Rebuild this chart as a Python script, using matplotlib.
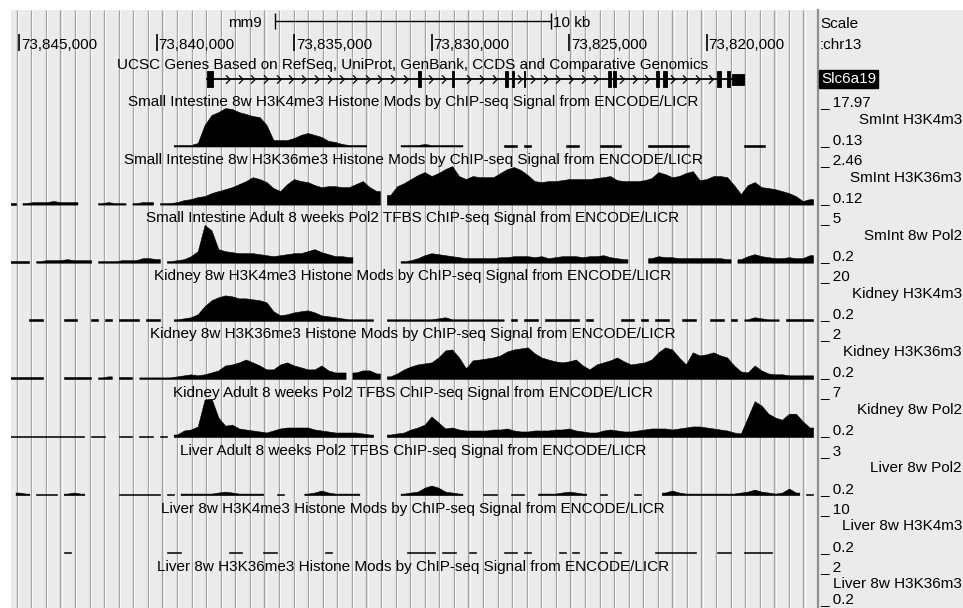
import numpy as np
import matplotlib
matplotlib.use("Agg")
from matplotlib import pyplot as plt
from matplotlib import transforms
from matplotlib.path import Path

plt.rcParams['font.family'] = ['Liberation Sans', 'DejaVu Sans']
FS = 11.0

# mm9 chr13 window, shown reversed (minus strand view)
chrom = 'chr13'
win_left = 73845291
win_right = 73816055
pos_ticks = [73845000, 73840000, 73835000, 73830000, 73825000, 73820000]

# UCSC gene Slc6a19
gene_name = 'Slc6a19'
gene_tx = (73838164, 73818640)
gene_exons = [(73838164, 73837945), (73830490, 73830380), (73829250, 73829180),
              (73827330, 73827220), (73827070, 73827000), (73826640, 73826590),
              (73823580, 73823470), (73823400, 73823290), (73821840, 73821730),
              (73821580, 73821440), (73819620, 73819470), (73819250, 73819150)]
gene_utr = (73819070, 73818640)

# signal in 250 bp bins, bin 0 centred on 73,845,250 (None = no data)
bin_bp = 250
bin_start = 73845250
N = None

sm_h3k4 = [N, N, N, N, N, N, N, N, N, N,
           N, N, N, N, N, N, N, N, N, N,
           N, N, N, N, 0.13, 0.13, 0.13, 1.1, 9.8, 14.6,
           16.0, 17.9, 17.5, 16.0, 15.1, 14.1, 13.6, 9.8, 2.5, 2.5,
           2.5, 3.5, 5.0, 5.9, 5.0, 4.0, 2.1, 1.6, 0.6, 0.13,
           0.13, 0.13, N, N, N, N, N, 0.13, 0.13, 0.13,
           0.6, 0.13, 0.13, 0.13, 0.13, 0.13, N, N, N, N,
           N, N, 0.13, 0.13, N, 0.13, N, N, N, N,
           N, 0.13, 0.13, N, N, N, 0.13, 0.13, 0.13, N,
           N, N, N, 0.13, 0.13, 0.13, 0.13, 0.13, 0.13, N,
           N, N, N, N, N, N, N, 0.13, 0.13, 0.13,
           N, N, N, N, N, N, N]

sm_h3k36 = [0.12, N, 0.12, 0.18, 0.18, 0.18, 0.25, 0.18, 0.18, 0.18,
            N, N, N, 0.12, 0.18, 0.12, 0.12, N, 0.12, 0.18,
            0.18, N, 0.12, 0.12, 0.18, 0.31, 0.37, 0.50, 0.56, 0.75,
            0.88, 1.0, 1.13, 1.32, 1.51, 1.76, 1.64, 1.45, 1.07, 0.88,
            1.32, 1.64, 1.51, 1.45, 1.26, 1.13, 1.19, 1.19, 1.13, 1.13,
            1.32, 1.51, 1.13, 0.88, N, 0.63, 1.19, 1.38, 1.64, 1.89,
            2.08, 1.83, 2.02, 2.27, 2.46, 1.83, 1.64, 1.83, 1.76, 1.76,
            1.76, 2.02, 2.27, 2.40, 2.21, 1.89, 1.51, 1.45, 1.51, 1.51,
            1.57, 1.64, 1.64, 1.64, 1.64, 1.70, 1.76, 1.83, 1.57, 1.51,
            1.51, 1.51, 1.57, 1.70, 2.08, 1.95, 1.76, 1.83, 2.02, 2.14,
            1.57, 1.64, 1.83, 1.83, 1.76, 1.26, 0.69, 1.26, 1.45, 1.13,
            1.07, 1.0, 0.88, 0.75, 0.56, 0.25, 0.37]

sm_pol2 = [0.2, 0.2, 0.2, N, 0.2, 0.33, 0.33, 0.33, 0.46, 0.33,
           0.33, 0.33, N, 0.2, 0.2, 0.2, 0.33, 0.33, 0.33, 0.59,
           0.59, 0.46, N, 0.2, 0.33, 0.46, 0.85, 1.5, 4.9, 4.2,
           1.76, 1.5, 1.37, 1.24, 1.24, 1.24, 1.11, 0.98, 0.85, 0.98,
           1.11, 1.24, 1.24, 1.5, 1.76, 1.37, 1.11, 0.85, 0.85, 0.72,
           N, N, N, N, N, N, N, 0.2, 0.33, 0.59,
           0.98, 1.24, 1.11, 0.98, 0.85, 0.72, 0.59, 0.59, 0.59, 0.59,
           0.59, 0.72, 0.72, 0.85, 0.85, 0.85, 0.72, 0.85, 0.59, 0.72,
           0.85, 0.85, 0.85, 0.72, 0.85, 0.85, 0.98, 0.72, 0.59, 0.46,
           N, N, N, 0.59, 0.85, 0.72, 0.72, 0.59, 0.59, 0.59,
           0.59, 0.59, 0.59, 0.59, 0.46, N, 0.46, 0.85, 1.11, 0.85,
           0.72, 0.59, 0.59, 0.72, 0.59, 0.59, 0.98]

kid_h3k4 = [N, N, N, 0.2, 0.2, N, N, N, 0.2, 0.2,
            N, N, 0.2, N, 0.2, N, 0.2, 0.2, 0.2, N,
            0.2, 0.2, N, N, 0.2, 0.7, 1.3, 2.9, 7.2, 10.4,
            12.0, 13.0, 12.5, 11.4, 11.4, 10.9, 10.4, 9.3, 4.5, 2.3,
            2.9, 3.9, 4.5, 5.0, 3.9, 2.3, 1.8, 1.3, 0.7, 0.2,
            0.2, 0.2, 0.2, N, N, 0.2, 0.2, 0.2, 0.2, 0.2,
            0.2, 0.2, 0.7, 1.3, 0.2, 0.2, 0.2, 0.2, 0.2, 0.2,
            0.2, 0.2, N, 0.2, N, 0.2, 0.2, N, 0.2, 0.2,
            0.2, 0.2, 0.2, N, 0.2, N, N, N, N, 0.2,
            0.2, N, 0.2, N, 0.2, 0.2, N, N, 0.2, 0.2,
            N, N, 0.2, 0.2, N, 0.2, N, 0.2, 1.3, 0.7,
            0.2, 0.2, N, 0.2, 0.2, 0.2, 0.2]

kid_h3k36 = [0.2, 0.2, 0.2, 0.2, 0.2, N, N, N, 0.2, 0.2,
             0.2, 0.2, N, 0.2, 0.25, N, 0.2, 0.2, N, 0.2,
             0.2, 0.2, 0.2, 0.2, 0.25, 0.3, 0.35, 0.3, 0.35, 0.44,
             0.54, 0.78, 0.83, 0.93, 1.07, 0.93, 0.78, 0.59, 0.59, 0.83,
             0.93, 0.78, 0.69, 0.59, 0.59, 0.78, 0.54, 0.44, 0.44, N,
             0.44, 0.54, 0.54, 0.39, N, 0.25, 0.39, 0.59, 0.73, 0.83,
             0.88, 0.93, 1.17, 1.51, 1.56, 1.17, 0.64, 1.03, 1.07, 1.12,
             1.17, 1.27, 1.46, 1.56, 1.61, 1.66, 1.37, 1.17, 1.07, 0.98,
             0.93, 0.98, 1.07, 0.78, 0.59, 0.83, 0.93, 1.03, 1.17, 0.98,
             0.83, 0.88, 0.93, 1.07, 1.42, 1.66, 1.56, 1.17, 0.83, 1.42,
             1.27, 1.32, 1.42, 1.27, 1.17, 0.78, 0.49, 0.44, 0.78, 0.54,
             0.39, 0.35, 0.35, 0.3, 0.3, 0.3, 0.3]

kid_pol2 = [0.2, 0.2, 0.2, 0.2, 0.2, 0.2, 0.2, 0.2, 0.2, 0.2,
            0.2, N, 0.2, 0.2, N, N, 0.2, 0.2, N, 0.2,
            0.2, N, 0.2, N, 0.38, 1.12, 1.3, 1.86, 6.8, 7.0,
            3.5, 2.0, 2.2, 1.49, 1.3, 1.12, 0.94, 0.75, 1.12, 1.49,
            1.67, 1.67, 1.67, 1.67, 1.3, 1.12, 0.94, 0.75, 0.75, 0.75,
            0.75, 0.57, 0.38, N, N, 0.38, 0.57, 0.75, 1.3, 1.67,
            2.2, 3.7, 2.6, 1.49, 1.67, 1.3, 1.12, 1.12, 1.12, 1.12,
            1.3, 1.3, 1.49, 1.12, 0.94, 0.94, 1.12, 1.12, 1.12, 1.3,
            1.3, 1.49, 1.12, 0.94, 0.75, 0.75, 1.12, 1.3, 1.12, 0.94,
            0.94, 1.12, 1.3, 1.49, 1.49, 1.49, 1.3, 1.49, 1.67, 1.86,
            1.86, 1.67, 1.49, 1.3, 1.12, 0.75, 0.57, 3.5, 6.5, 5.7,
            4.2, 3.5, 3.1, 4.2, 4.2, 2.8, 1.67]

liv_pol2 = [N, 0.28, 0.2, N, 0.2, 0.2, 0.2, N, 0.2, 0.28,
            0.2, N, N, N, N, N, 0.2, 0.2, 0.2, 0.2,
            0.2, 0.2, N, 0.2, N, 0.2, 0.2, 0.2, 0.2, 0.2,
            0.28, 0.35, 0.28, 0.2, 0.2, 0.2, 0.2, N, N, 0.2,
            N, N, N, 0.2, 0.28, 0.43, 0.28, 0.2, 0.2, 0.2,
            0.2, N, N, N, N, N, N, 0.2, 0.28, 0.35,
            0.65, 0.81, 0.65, 0.35, 0.28, 0.2, N, N, N, 0.2,
            0.2, N, N, 0.2, 0.2, N, N, 0.2, 0.2, 0.2,
            0.28, 0.35, 0.28, 0.2, N, N, 0.2, N, N, N,
            N, 0.2, N, N, N, 0.28, 0.43, 0.28, 0.2, 0.2,
            0.2, 0.2, 0.2, 0.2, 0.2, 0.2, 0.28, 0.35, 0.5, 0.35,
            0.28, 0.2, 0.28, 0.58, 0.28, N, 0.2]

liv_h3k4 = [N, N, N, N, N, N, N, N, 0.2, N,
            N, N, N, N, N, N, N, N, N, N,
            N, N, N, 0.2, 0.2, N, N, N, N, N,
            N, N, 0.2, 0.2, N, N, N, 0.2, 0.2, N,
            N, N, N, N, N, N, 0.2, N, N, N,
            N, N, N, N, N, N, N, N, 0.2, 0.2,
            0.2, 0.2, N, 0.2, 0.2, N, N, 0.2, N, N,
            N, N, 0.2, 0.2, N, 0.2, N, N, N, N,
            0.2, N, 0.2, N, N, N, 0.2, N, 0.2, N,
            N, N, N, N, 0.2, 0.2, 0.2, 0.2, 0.2, 0.2,
            N, N, N, 0.2, 0.2, N, N, 0.2, 0.2, 0.2,
            0.2, N, N, N, N, N, N]

liv_h3k36 = []

track_data = [sm_h3k4, sm_h3k36, sm_pol2, kid_h3k4, kid_h3k36, kid_pol2,
              liv_pol2, liv_h3k4, liv_h3k36]
track_titles = [
    'Small Intestine 8w H3K4me3 Histone Mods by ChIP-seq Signal from ENCODE/LICR',
    'Small Intestine 8w H3K36me3 Histone Mods by ChIP-seq Signal from ENCODE/LICR',
    'Small Intestine Adult 8 weeks Pol2 TFBS ChIP-seq Signal from ENCODE/LICR',
    'Kidney 8w H3K4me3 Histone Mods by ChIP-seq Signal from ENCODE/LICR',
    'Kidney 8w H3K36me3 Histone Mods by ChIP-seq Signal from ENCODE/LICR',
    'Kidney Adult 8 weeks Pol2 TFBS ChIP-seq Signal from ENCODE/LICR',
    'Liver Adult 8 weeks Pol2 TFBS ChIP-seq Signal from ENCODE/LICR',
    'Liver 8w H3K4me3 Histone Mods by ChIP-seq Signal from ENCODE/LICR',
    'Liver 8w H3K36me3 Histone Mods by ChIP-seq Signal from ENCODE/LICR']
track_short = ['SmInt H3K4m3', 'SmInt H3K36m3', 'SmInt 8w Pol2', 'Kidney H3K4m3',
               'Kidney H3K36m3', 'Kidney 8w Pol2', 'Liver 8w Pol2',
               'Liver 8w H3K4m3', 'Liver 8w H3K36m3']
track_min = [0.13, 0.12, 0.2, 0.2, 0.2, 0.2, 0.2, 0.2, 0.2]
track_max = [17.97, 2.46, 5, 20, 2, 7, 3, 10, 2]


# ---- layout (pixels) ----
W, H = 963, 608
X0, X1 = 11, 815          # data area
TOP = 10
SEP = 817.5
ROW = 58.1                # track pitch
TRACK_H = 37
TY = 2                    # text nudge (va=center sits a bit high)

fig = plt.figure(figsize=(W / 100, H / 100), dpi=100)
fig.patch.set_facecolor('white')

bg = fig.add_axes([0, 0, 1, 1])
bg.set_xlim(0, W)
bg.set_ylim(H, 0)
bg.axis('off')
bg.add_patch(plt.Rectangle((X0, TOP), W - X0, H - TOP, facecolor='#ebebeb', edgecolor='none'))
for gx in np.arange(16.7, X1, 14.57):
    bg.plot([gx, gx], [TOP, H], color='#a4a4a4', lw=1.0, solid_capstyle='butt')
    bg.plot([gx + 1.2, gx + 1.2], [TOP, H], color='#fcfcfc', lw=0.7, solid_capstyle='butt')
bg.plot([SEP, SEP], [TOP, H], color='#8f8f8f', lw=1.6)

# genomic axes for the header rows
gax = fig.add_axes([X0 / W, 0, (X1 - X0) / W, 1])
gax.set_xlim(win_left, win_right)
gax.set_ylim(H, 0)
gax.axis('off')

def px_shift(dx):
    return transforms.offset_copy(gax.transData, fig=fig, x=dx, y=0, units='dots')

# scale bar (10 kb, centred)
mid = (win_left + win_right) / 2
sb0, sb1 = mid + 5000, mid - 5000
gax.plot([sb0, sb1], [21, 21], color='black', lw=1)
gax.vlines([sb0, sb1], 13, 29, color='black', lw=1)
gax.text(sb0, 21 + TY, 'mm9', transform=px_shift(-14), ha='right', va='center', fontsize=FS)
gax.text(sb1, 21 + TY, '10 kb', transform=px_shift(2), ha='left', va='center', fontsize=FS)

# position ruler
gax.vlines(pos_ticks, 34, 51, color='black', lw=1.2)
for p in pos_ticks:
    gax.text(p, 43 + TY, f'{p:,}', transform=px_shift(2), ha='left', va='center', fontsize=FS)

gax.text(mid, 63 + TY, 'UCSC Genes Based on RefSeq, UniProt, GenBank, CCDS and Comparative Genomics',
         ha='center', va='center', fontsize=FS)

# gene model
GY = 79
gax.plot(gene_tx, [GY, GY], color='black', lw=1.3)
chev = Path([(-0.6, 1), (0.4, 0), (-0.6, -1)], [Path.MOVETO, Path.LINETO, Path.LINETO])
cx = np.arange(gene_tx[0] - 300, gene_tx[1], -462)
inside = [any(min(s, e) - 120 < c < max(s, e) + 120 for s, e in gene_exons + [gene_utr]) for c in cx]
cx = cx[~np.array(inside)]
gax.plot(cx, [GY] * len(cx), linestyle='none', marker=chev, markersize=6,
         markerfacecolor='none', markeredgecolor='black', markeredgewidth=0.9)
for s, e in gene_exons:
    gax.bar((s + e) / 2, 16, width=abs(s - e), bottom=GY - 8, color='black',
            edgecolor='black', lw=0.6)
gax.bar(sum(gene_utr) / 2, 11, width=abs(gene_utr[0] - gene_utr[1]), bottom=GY - 5.5,
        color='black', edgecolor='black', lw=0.6)

# right panel header
bg.text(820, 22 + TY, 'Scale', ha='left', va='center', fontsize=FS)
bg.text(820, 43 + TY, ':' + chrom, ha='left', va='center', fontsize=FS)
bg.text(821, 78 + 1, gene_name, ha='left', va='center', fontsize=FS, color='white',
        bbox=dict(boxstyle='square,pad=0.12', facecolor='black', edgecolor='black'))

# signal tracks
for k, vals in enumerate(track_data):
    label_y = 100 + ROW * k
    base = 145 + ROW * k
    vmin, vmax = track_min[k], track_max[k]
    unit = (vmax - vmin) / TRACK_H

    bg.text((X0 + X1) / 2, label_y + TY, track_titles[k], ha='center', va='center', fontsize=FS)
    bg.text(820, label_y + TY, f'_ {vmax:g}', ha='left', va='center', fontsize=FS)
    bg.text(962, label_y + 17.5 + TY, track_short[k], ha='right', va='center', fontsize=FS)
    bg.text(820, min(base - 7 + TY, 599), f'_ {vmin:g}', ha='left', va='center', fontsize=FS)

    ax = fig.add_axes([X0 / W, (H - base - 1.5) / H, (X1 - X0) / W, (TRACK_H + 1.5) / H])
    ax.set_xlim(win_left, win_right)
    floor = vmin - 1.5 * unit
    ax.set_ylim(floor, vmax)
    ax.axis('off')

    centers = bin_start - bin_bp * np.arange(len(vals))
    run = []
    for i, v in enumerate(list(vals) + [None]):
        if v is not None:
            run.append(i)
            continue
        if run:
            xs = [centers[run[0]] + bin_bp / 2] + [centers[j] for j in run] + [centers[run[-1]] - bin_bp / 2]
            ys = [vals[run[0]]] + [vals[j] for j in run] + [vals[run[-1]]]
            ax.fill_between(xs, floor, ys, color='black', lw=0.4)
            run = []

fig.savefig('out.png', dpi=100, facecolor='white')
